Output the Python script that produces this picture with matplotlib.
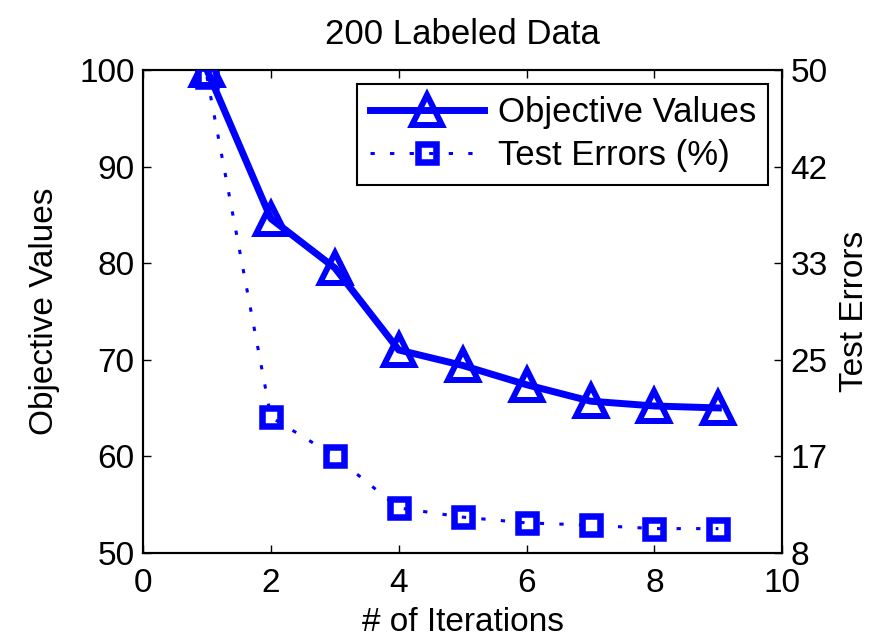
import matplotlib
matplotlib.use('Agg')
import matplotlib.pyplot as plt

# Data
iterations = [1, 2, 3, 4, 5, 6, 7, 8, 9]
objective_values = [100.0, 84.6, 79.5, 71.0, 69.4, 67.4, 65.7, 65.2, 65.0]
test_errors = [49.4, 19.8, 16.4, 11.9, 11.1, 10.6, 10.4, 10.1, 10.1]

x_ticks = [0, 2, 4, 6, 8, 10]
left_ticks = [50, 60, 70, 80, 90, 100]
right_tick_pos = [8, 16.4, 24.8, 33.2, 41.6, 50]
right_tick_labels = ['8', '17', '25', '33', '42', '50']


def main():
    plt.rcParams['font.family'] = ['Liberation Sans', 'DejaVu Sans']
    plt.rcParams['font.size'] = 24
    plt.rcParams['xtick.direction'] = 'in'
    plt.rcParams['ytick.direction'] = 'in'

    blue = '#0000FF'

    fig = plt.figure(figsize=(8.83, 6.42), dpi=100)
    ax = fig.add_axes([0.162, 0.139, 0.724, 0.752])
    ax2 = ax.twinx()

    line_obj, = ax.plot(
        iterations, objective_values, '-^', color=blue, lw=5,
        markersize=21, markerfacecolor='none', markeredgewidth=4.3,
        label='Objective Values', zorder=3,
    )
    line_err, = ax2.plot(
        iterations, test_errors, ':s', color=blue, lw=2.2,
        markersize=12.5, markerfacecolor='none', markeredgewidth=4.7,
        label='Test Errors (%)',
    )
    line_err.set_dashes((1.4, 5))

    ax.set_xlim(0, 10)
    ax.set_ylim(50, 100)
    ax.set_xticks(x_ticks)
    ax.set_yticks(left_ticks)
    ax2.set_ylim(8, 50)
    ax2.set_yticks(right_tick_pos)
    ax2.set_yticklabels(right_tick_labels)

    for a in (ax, ax2):
        a.tick_params(length=6, width=1, labelsize=24, pad=6)
        for s in a.spines.values():
            s.set_linewidth(1.5)
    ax.tick_params(top=True)
    ax.tick_params(axis='x', pad=11)

    ax.set_title('200 Labeled Data', fontsize=25, pad=19)
    ax.set_xlabel('# of Iterations', fontsize=24, labelpad=6)
    ax.set_ylabel('Objective Values', fontsize=24, labelpad=14)
    ax2.set_ylabel('Test Errors', fontsize=24, labelpad=8)

    leg = ax.legend(
        handles=[line_obj, line_err], loc='upper right', fontsize=25,
        fancybox=False, edgecolor='black', framealpha=1,
        handlelength=3.3, borderaxespad=0.4, labelspacing=0.3,
        borderpad=0.35, handletextpad=0.4,
    )
    leg.get_frame().set_linewidth(1.5)
    leg.set_zorder(5)
    ax.set_zorder(ax2.get_zorder() + 1)
    ax.patch.set_visible(False)

    fig.savefig('out.png', dpi=100)


if __name__ == '__main__':
    main()
